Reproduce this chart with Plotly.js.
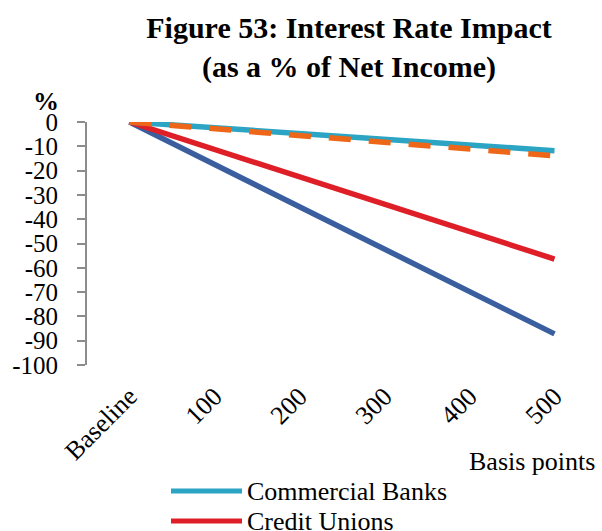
<!DOCTYPE html>
<html><head><meta charset="utf-8">
<script src="https://cdn.plot.ly/plotly-3.0.1.min.js"></script>
<style>html,body{margin:0;padding:0;background:#fff;}#chart{width:602px;height:531px;}</style>
</head><body><div id="chart"></div>
<script>
// ---- data ----
const categories = ["Baseline", "100", "200", "300", "400", "500"];
const commercialBanks = [0, -2.4, -4.7, -7.1, -9.4, -11.8];
const creditUnions = [0, -11.3, -22.6, -33.8, -45.1, -56.4];
const series3 = [0, -17.4, -34.9, -52.3, -69.8, -87.2];
const series4 = [0, -2.8, -5.6, -8.3, -11.1, -13.9];
const yTickValues = [0, -10, -20, -30, -40, -50, -60, -70, -80, -90, -100];
const yTickLabels = ["0", "-10", "-20", "-30", "-40", "-50", "-60", "-70", "-80", "-90", "-100"];
const boundaryTicks = [0.5, 1.5, 2.5, 3.5, 4.5];

const FONT = "Liberation Serif";
const AXIS_GRAY = "#8c8c8c";

const traces = [
  {x: categories, y: series3, name: "Series 3", mode: "lines", showlegend: false,
   line: {color: "#3A5E9E", width: 5.5}},
  {x: categories, y: creditUnions, name: "Credit Unions", mode: "lines", showlegend: false,
   line: {color: "#DF1F27", width: 5.5}},
  {x: categories, y: commercialBanks, name: "Commercial Banks", mode: "lines", showlegend: false,
   line: {color: "#2BA5C3", width: 5.5}},
  {x: categories, y: series4, name: "Series 4", mode: "lines", showlegend: false,
   line: {color: "#EE6617", width: 5.5, dash: "22px,18px"}}
];

// manual legend (only the visible entries of the original)
const legendEntries = [traces[2], traces[1]];
const shapes = [];
const annotations = [];
legendEntries.forEach((t, i) => {
  const yc = (365 - (491 + 30 * i)) / 243;
  shapes.push({type: "line", xref: "paper", yref: "paper",
    x0: (171 - 87) / 510, x1: (242 - 87) / 510, y0: yc, y1: yc,
    line: {color: t.line.color, width: 5}});
  annotations.push({xref: "paper", yref: "paper", x: (245 - 87) / 510, y: yc,
    xanchor: "left", yanchor: "middle", showarrow: false, text: t.name,
    font: {family: FONT, size: 26, color: "#000"}});
});
annotations.push({xref: "paper", yref: "paper", x: 1.0, y: (365 - 461) / 243,
  xanchor: "right", yanchor: "middle", showarrow: false, text: "Basis points",
  font: {family: FONT, size: 26, color: "#000"}});
annotations.push({xref: "paper", yref: "paper", x: (46 - 87) / 510, y: (365 - 101) / 243,
  xanchor: "center", yanchor: "middle", showarrow: false, text: "<b>%</b>",
  font: {family: FONT, size: 26, color: "#000"}});

const layout = {
  width: 602, height: 531,
  paper_bgcolor: "#fff", plot_bgcolor: "#fff",
  font: {family: FONT, size: 26, color: "#000"},
  margin: {l: 87, r: 5, t: 122, b: 166, autoexpand: false},
  showlegend: false,
  title: {text: "<b>Figure 53: Interest Rate Impact<br>(as a % of Net Income)</b>",
    font: {family: FONT, size: 30, color: "#000"},
    x: 349 / 602, xref: "container", xanchor: "center",
    y: 1 - 38 / 531, yref: "container", yanchor: "top"},
  xaxis: {type: "category", range: [-0.5, 5.5], showline: false, ticks: "",
    showgrid: false, zeroline: false, tickangle: -45, ticklabelstandoff: 10,
    tickfont: {family: FONT, size: 26, color: "#000"}, fixedrange: true},
  xaxis2: {overlaying: "x", side: "top", anchor: "y", type: "linear", range: [-0.5, 5.5],
    tickmode: "array", tickvals: boundaryTicks, ticks: "inside", ticklen: 8, tickwidth: 2,
    tickcolor: AXIS_GRAY, showline: true, linecolor: AXIS_GRAY, linewidth: 2,
    showticklabels: false, showgrid: false, zeroline: false},
  yaxis: {range: [-100, 0], tickmode: "array", tickvals: yTickValues, ticktext: yTickLabels,
    ticks: "outside", ticklen: 8, tickwidth: 2, tickcolor: AXIS_GRAY,
    showline: true, linecolor: AXIS_GRAY, linewidth: 2, showgrid: false, zeroline: false,
    ticklabelstandoff: 14, tickfont: {family: FONT, size: 25, color: "#000"}},
  shapes: shapes,
  annotations: annotations
};

Plotly.newPlot("chart", traces, layout, {staticPlot: true, displayModeBar: false});
</script>
</body></html>
